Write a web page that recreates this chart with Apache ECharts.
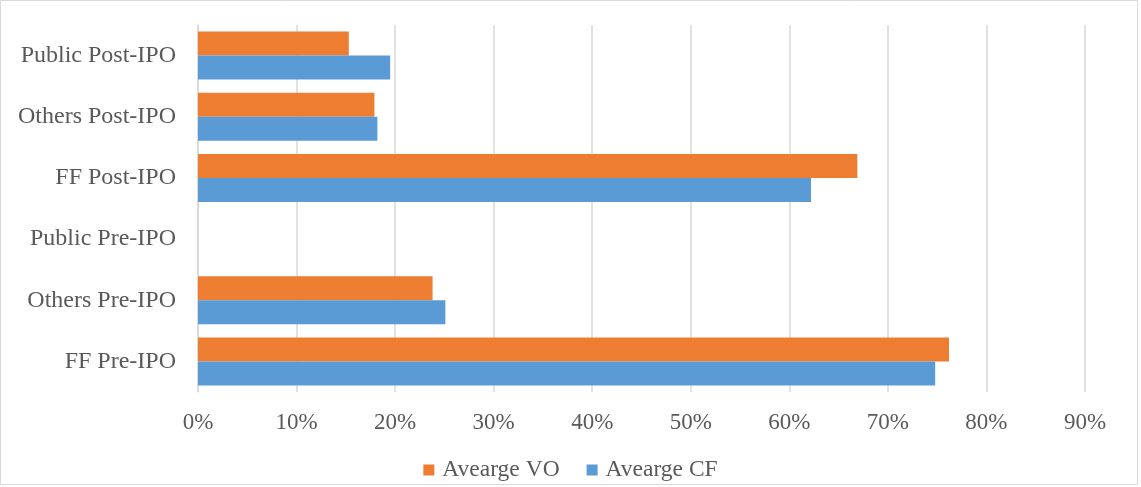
<!DOCTYPE html>
<html>
<head>
<meta charset="utf-8">
<script src="https://cdn.jsdelivr.net/npm/echarts@6/dist/echarts.min.js"></script>
<style>
  html, body { margin: 0; padding: 0; background: #fff; }
  #chart { width: 1141px; height: 487px; }
</style>
</head>
<body>
<div id="chart"></div>
<script>
const categories = ['FF Pre-IPO', 'Others Pre-IPO', 'Public Pre-IPO', 'FF Post-IPO', 'Others Post-IPO', 'Public Post-IPO']
const averageVO = [76.2, 23.8, 0, 66.9, 17.9, 15.3]
const averageCF = [74.8, 25.1, 0, 62.2, 18.2, 19.5]
const xTicks = [0, 10, 20, 30, 40, 50, 60, 70, 80, 90]

const font = '"Liberation Serif", "Times New Roman", serif'
const chart = echarts.init(document.getElementById('chart'))

chart.setOption({
  animation: false,
  textStyle: { fontFamily: font },
  graphic: [{
    type: 'rect',
    shape: { x: 0.5, y: 0.5, width: 1137, height: 484 },
    style: { fill: 'none', stroke: '#d9d9d9', lineWidth: 1 },
  }],
  legend: {
    data: ['Avearge VO', 'Avearge CF'],
    top: 453,
    left: 'center',
    itemWidth: 11,
    itemHeight: 11,
    itemGap: 27,
    icon: 'rect',
    textStyle: { fontFamily: font, fontSize: 23.5, color: '#595959', padding: [0, 0, 0, 3] },
  },
  grid: { left: 198, right: 56, top: 25, bottom: 95 },
  xAxis: {
    type: 'value',
    min: xTicks[0],
    max: xTicks[xTicks.length - 1],
    interval: 10,
    axisLine: { show: false },
    axisTick: { show: false },
    axisLabel: { formatter: '{value}%', fontFamily: font, fontSize: 23, color: '#595959', margin: 19 },
    splitLine: { lineStyle: { color: '#d9d9d9', width: 1.5 } },
  },
  yAxis: {
    type: 'category',
    data: categories,
    axisLine: { lineStyle: { color: '#d9d9d9', width: 1.5 } },
    axisTick: { show: false },
    axisLabel: { fontFamily: font, fontSize: 24, color: '#595959', margin: 22 },
  },
  series: [
    {
      name: 'Avearge VO',
      type: 'bar',
      data: averageVO,
      barWidth: 24,
      barGap: '0%',
      itemStyle: { color: '#ed7d31' },
    },
    {
      name: 'Avearge CF',
      type: 'bar',
      data: averageCF,
      barWidth: 24,
      barGap: '0%',
      itemStyle: { color: '#5b9bd5' },
    },
  ],
})
</script>
</body>
</html>
